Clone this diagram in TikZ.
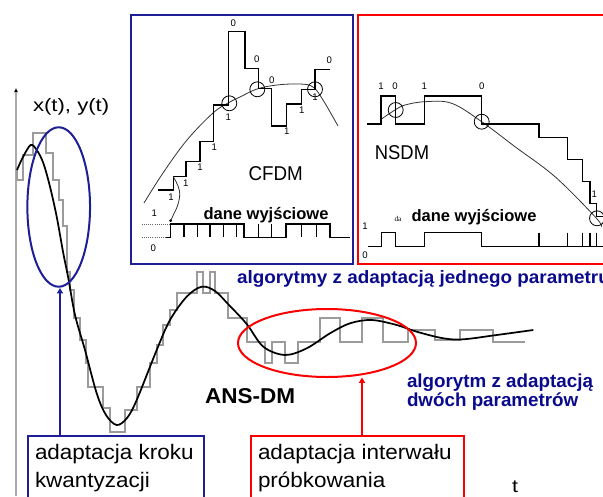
\documentclass[tikz,border=0pt]{standalone}
\usepackage{fontspec}
\setmainfont{Liberation Sans}
\newfontfamily\tinyserif{Liberation Serif}
\usetikzlibrary{shapes.geometric,arrows.meta}
\definecolor{bx}{RGB}{30,30,150}
\definecolor{bt}{RGB}{10,10,140}
\definecolor{rd}{RGB}{250,0,0}
\definecolor{stairgray}{RGB}{155,155,155}
\definecolor{axisgray}{RGB}{170,170,170}
\newcommand\hs[2]{\scalebox{#1}[1]{#2}}
\newcommand\fs[1]{\fontsize{#1}{#1}\selectfont}
\begin{document}
\begin{tikzpicture}[x=0.75pt,y=-0.75pt,
  txt/.style={inner sep=0pt,outer sep=0pt},
  lbl/.style={inner sep=0pt,outer sep=0pt,font=\fs{7.2}},
  inset/.style={draw,line width=1.5pt,inner sep=0pt,minimum width=#1},
  sig/.style={line width=0.8pt,black},
  thincurve/.style={line width=0.6pt,black!80},
  ring/.style={circle,draw,line width=0.6pt,minimum size=11.2pt,inner sep=0pt},
  note/.style={draw,line width=1.5pt,inner sep=0pt,anchor=north west},
  conn/.style={line width=1.5pt,-{Triangle[length=4pt,width=4.5pt]}}]
\clip (0,0) rectangle (603,496);
\fill[white] (0,0) rectangle (603,496);

% axis
\coordinate (axb) at (16,496);
\coordinate (axt) at (16,88);
\draw[axisgray,line width=1.1pt,-{Latex[length=3pt,width=3pt,black]}] (axb) -- (axt);
\node[txt,anchor=base west] (xy) at (33,111) {\fs{13.5}\hs{1.23}{x(t), y(t)}};
\node[txt,anchor=base west] (tt) at (512,492) {\fs{13.5}\hs{1.2}{t}};

% staircase y(t)
\draw[stairgray,line width=1.1pt] (17,170) -- (17,180) -- (23,180) -- (23,155) -- (33,155) -- (33,133) -- (46,133) -- (46,153) -- (53,153) -- (53,180) -- (59,180) -- (59,200) -- (63,200) -- (63,226) -- (67,226) -- (67,272) -- (70,272) -- (70,290) -- (74,290) -- (74,318) -- (80,318) -- (80,340) -- (86,340) -- (86,363) -- (88,363) -- (88,387) -- (103,387) -- (103,408) -- (110,408) -- (110,432) -- (125,432) -- (125,410) -- (137,410) -- (137,387) -- (150,387) -- (150,363) -- (157,363) -- (157,345) -- (163,345) -- (163,325) -- (170,325) -- (170,310) -- (177,310) -- (177,293) -- (197,293) -- (197,272) -- (203,272) -- (203,293) -- (210,293) -- (210,272) -- (215,272) -- (215,293) -- (228,293) -- (228,318) -- (247,318) -- (247,342) -- (265,342) -- (265,363) -- (272,363) -- (272,342) -- (285,342) -- (285,363) -- (298,363) -- (298,342) -- (320,342) -- (320,318) -- (340,318) -- (340,342) -- (362,342) -- (362,318) -- (383,318) -- (383,342) -- (408,342) -- (408,330) -- (435,330) -- (435,340) -- (460,340) -- (460,330) -- (493,330) -- (493,342) -- (525,342);

% signal x(t)
\draw[black,line width=1.3pt] plot[smooth,tension=0.55] coordinates {(17,170) (23,157) (30.7,145) (36.7,150) (43.3,163) (50,186.7) (56.7,216.7) (63.3,253.3) (68.3,278) (75,315) (85,350) (96.7,393.3) (106,415) (116.7,425) (127,418) (136.7,400) (156.7,350) (170,320) (186.7,296.7) (201.7,286.7) (215,291) (228,304) (246.7,324) (263.3,346.7) (285,355) (306.7,348.3) (330,333.3) (350,323.3) (371.7,320) (396.7,325) (416.7,331.7) (443.3,338.3) (463.3,339.3) (496.7,335) (533.3,330)};

% ellipses
\node[ellipse,draw=bx,line width=1.5pt,minimum width=47pt,minimum height=119.6pt,inner sep=0pt] (E1) at (58.7,207) {};
\node[ellipse,draw=rd,line width=1.5pt,minimum width=133.5pt,minimum height=51pt,inner sep=0pt] (E2) at (327,343) {};

% ===== CFDM inset =====
\node[inset=166.5pt,draw=bx,minimum height=186.75pt,anchor=north west] (C) at (130,14) {};
\draw[thincurve] plot[smooth,tension=0.6] coordinates {(144,203) (163,173) (187,140) (213,113) (228,103) (240,97) (257,89) (277,85) (300,84) (313,87) (323,100) (338,126)};
\draw[sig] (158.3,190) -- (173.3,190) -- (173.3,176.7) -- (186,176.7) -- (186,161.7) -- (200,161.7) -- (200,141.7) -- (213.3,141.7) -- (213.3,105) -- (228.3,105) -- (228.3,31.7) -- (245,31.7) -- (245,68.3) -- (258.3,68.3) -- (258.3,88.3) -- (271.7,88.3) -- (271.7,126) -- (286.7,126) -- (286.7,104) -- (301.7,104) -- (301.7,89.3) -- (315,89.3) -- (315,69.3) -- (330,69.3);
\node[ring] (c1) at (229.3,103.3) {};
\node[ring] (c2) at (257.3,89.3) {};
\node[ring] (c3) at (315,89.3) {};
\foreach \x/\y/\t [count=\i] in {171/197/1,185.7/183.3/1,200/166.7/1,214.3/146.7/1,228.3/116.7/1,233.3/22.7/0,256.7/59.3/0,271.7/80/0,286.7/130.7/1,301.7/110/1,315/97.3/1,329.3/60/0,154.3/213.3/1,153.3/248.3/0}
  \node[lbl] (cl\i) at (\x,\y) {\t};
\coordinate (cdot) at (170.7,220.7);
\draw[thincurve] plot[smooth,tension=0.7] coordinates {(173.3,176.7) (179.3,190) (178.3,203.3) (173.3,215) (cdot)};
\fill (cdot) circle (1.5);
\draw[black!60,densely dotted,line width=0.6pt] (141.7,224) -- (170.7,224) (141.7,237.3) -- (170.7,237.3);
\draw[sig] (166,237.3) -- (170.7,237.3) -- (170.7,224) -- (244,224) -- (244,237.3) -- (286,237.3) -- (286,224) -- (330,224) -- (330,237.3) -- (350,237.3);
\foreach \x in {184,197.3,210,223.3,236.7,258.3,271.7,301.7,316.7}
  \draw[sig] (\x,224) -- (\x,237.3);
\node[txt,anchor=base] (cfdm) at (275.7,180) {\fs{15}\hs{0.94}{CFDM}};
\node[txt,anchor=base] (cdane) at (266,219.5) {\fs{12.4}\bfseries dane wyjściowe};

% ===== NSDM inset =====
\node[inset=190pt,draw=rd,minimum height=186.75pt,anchor=north west] (N) at (357,14) {};
\draw[thincurve] plot[smooth,tension=0.6] coordinates {(380,120) (395,110) (405,105) (425,101.7) (451.7,103.3) (481.7,121.7) (515,146.7) (555,176.7) (595,216.7) (601.7,226.7)};
\draw[sig] (366.7,124) -- (381,124) -- (381,96) -- (395.7,96) -- (395.7,124) -- (424.3,124) -- (424.3,96) -- (481.7,96) -- (481.7,124) -- (539,124) -- (539,137.3) -- (567.7,137.3) -- (567.7,159.3) -- (582.3,159.3) -- (582.3,181.7) -- (590,181.7) -- (590,203.3) -- (596.7,203.3) -- (596.7,216.7) -- (606,216.7);
\node[ring] (n1) at (395.7,110) {};
\node[ring] (n2) at (481.7,121.7) {};
\node[ring] (n3) at (597,218.3) {};
\foreach \x/\y/\t [count=\i] in {381/86/1,395/86/0,424.3/86/1,481.7/86/0,594.3/194/1,365/226/1,365/255/0}
  \node[lbl] (nl\i) at (\x,\y) {\t};
\draw[sig] (368.3,246.7) -- (381.7,246.7) -- (381.7,232.7) -- (395.7,232.7) -- (395.7,246.7) -- (424.3,246.7) -- (424.3,232.7) -- (481.7,232.7) -- (481.7,246.7) -- (606,246.7);
\foreach \x in {539,567.7,582.3,590,596.7}
  \draw[sig] (\x,232.7) -- (\x,246.7);
\node[txt,anchor=base] (nsdm) at (402,159.3) {\fs{15}\hs{0.92}{NSDM}};
\node[txt] (da) at (398,218.5) {\tinyserif\fs{5.5}da};
\node[txt,anchor=base] (ndane) at (474,221.5) {\fs{12.4}\bfseries dane wyjściowe};

% ===== labels =====
\node[txt,anchor=base west,text=bt] (alg1) at (237,283.5) {\fs{13.5}\bfseries\hs{1.05}{algorytmy z adaptacją jednego parametru}};
\node[txt,anchor=base west,text=bt] (alg2a) at (407,387.5) {\fs{14.1}\bfseries algorytm z adaptacją};
\node[txt,anchor=base west,text=bt] (alg2b) at (407,406.5) {\fs{14.1}\bfseries dwóch parametrów};
\node[txt,anchor=base west] (ans) at (205,403.3) {\fs{16.1}\bfseries\hs{1.05}{ANS-DM}};

% ===== bottom boxes =====
\node[note,draw=bx,minimum width=132pt,minimum height=60pt] (B1) at (27,435) {};
\node[txt,anchor=base west] (b1a) at (35,459) {\fs{15.75}\hs{1.07}{adaptacja kroku}};
\node[txt,anchor=base west] (b1b) at (35,487.5) {\fs{15.75}\hs{1.07}{kwantyzacji}};
\node[note,draw=rd,minimum width=159.75pt,minimum height=60pt] (B2) at (250,435) {};
\node[txt,anchor=base west] (b2a) at (258,459) {\fs{15.75}\hs{1.07}{adaptacja interwału}};
\node[txt,anchor=base west] (b2b) at (258,487.5) {\fs{15.75}\hs{1.07}{próbkowania}};

% connectors
\coordinate (a1) at (60,288);
\coordinate (a2) at (362,377.5);
\draw[conn,bx] (a1 |- B1.north) -- (a1);
\draw[conn,rd] (a2 |- B2.north) -- (a2);
\end{tikzpicture}
\end{document}
